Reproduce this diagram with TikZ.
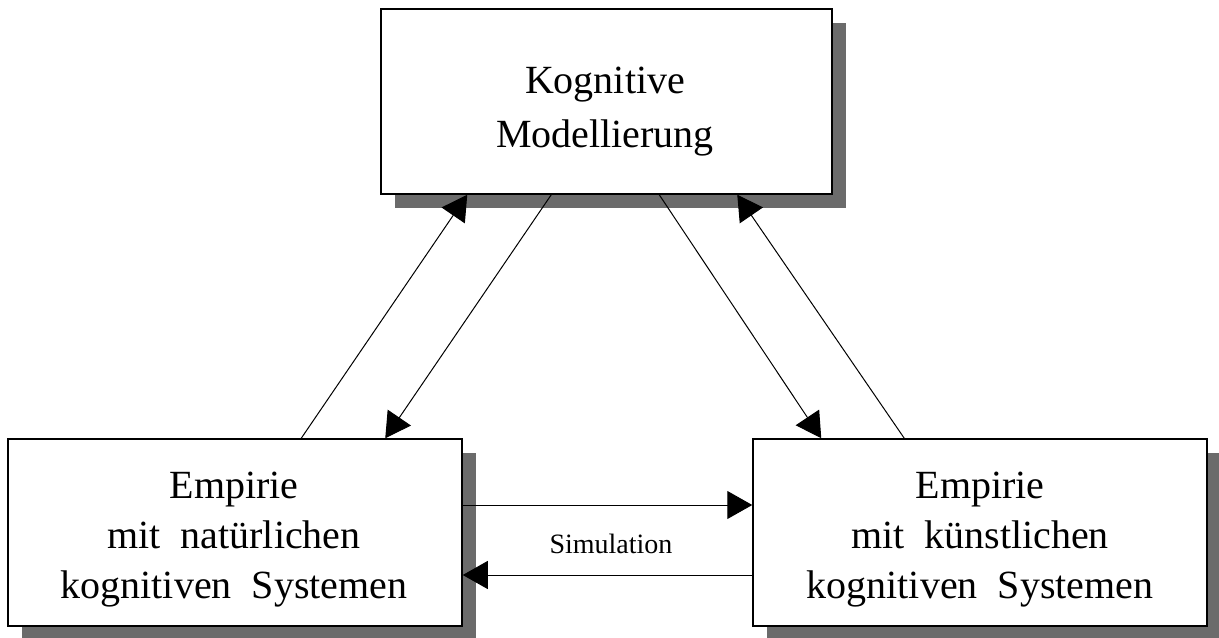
\documentclass[tikz,border=0pt]{standalone}
\usepackage{fontspec}
\setmainfont{Liberation Serif}
\usetikzlibrary{arrows.meta,shadows}
\begin{document}
\begin{tikzpicture}[x=0.5pt,y=-0.5pt,
  box/.style={draw=black,line width=0.75pt,fill=white,inner sep=0pt,
    minimum width=227pt,minimum height=93.5pt,
    drop shadow={shadow xshift=6.75pt,shadow yshift=-7pt,fill=black!58,opacity=1}},
  boxtext/.style={font=\fontsize{20}{25}\selectfont,align=center,anchor=base,inner sep=0pt},
  conn/.style={line width=0.5pt,-{Triangle[length=12.5pt,width=14pt]}},
  plain/.style={line width=0.5pt}]
\useasboundingbox (0,0) rectangle (1219,637);
\node[box,minimum width=225.5pt,minimum height=92.5pt] (top) at (606.5,101.5) {};
\node[box] (left) at (235,532.5) {};
\node[box] (right) at (980,532.5) {};
\node[boxtext,font=\fontsize{20}{27}\selectfont] (ttop) at (605,147) {Kognitive\\Modellierung};
\node[boxtext] (tleft) at (234,598) {Empirie\\mit\ \ natürlichen\\kognitiven\ \ Systemen};
\node[boxtext] (tright) at (980,598) {Empirie\\mit\ \ künstlichen\\kognitiven\ \ Systemen};
% diagonal connectors
\coordinate (a1s) at ([xshift=147pt]left.north west);
\coordinate (a1e) at ([xshift=43.5pt]top.south west);
\coordinate (a2s) at ([xshift=85.5pt]top.south west);
\coordinate (a2e) at ([xshift=189pt]left.north west);
\coordinate (a3s) at ([xshift=139.5pt]top.south west);
\coordinate (a3e) at ([xshift=34.5pt]right.north west);
\coordinate (a4s) at ([xshift=76pt]right.north west);
\coordinate (a4e) at ([xshift=178.5pt]top.south west);
\draw[conn] (a1s) -- (a1e);
\draw[conn] (a2s) -- (a2e);
\draw[conn] (a3s) -- (a3e);
\draw[conn] (a4s) -- (a4e);
% horizontal connectors
\draw[conn] ([yshift=13.75pt]left.east) -- ([yshift=13.75pt]right.west);
\draw[conn] ([yshift=-21.25pt]right.west) -- ([yshift=-21.25pt]left.east);
\node[font=\fontsize{14}{16}\selectfont,anchor=base,inner sep=0pt] (sim) at (611,553) {Simulation};
\end{tikzpicture}
\end{document}
